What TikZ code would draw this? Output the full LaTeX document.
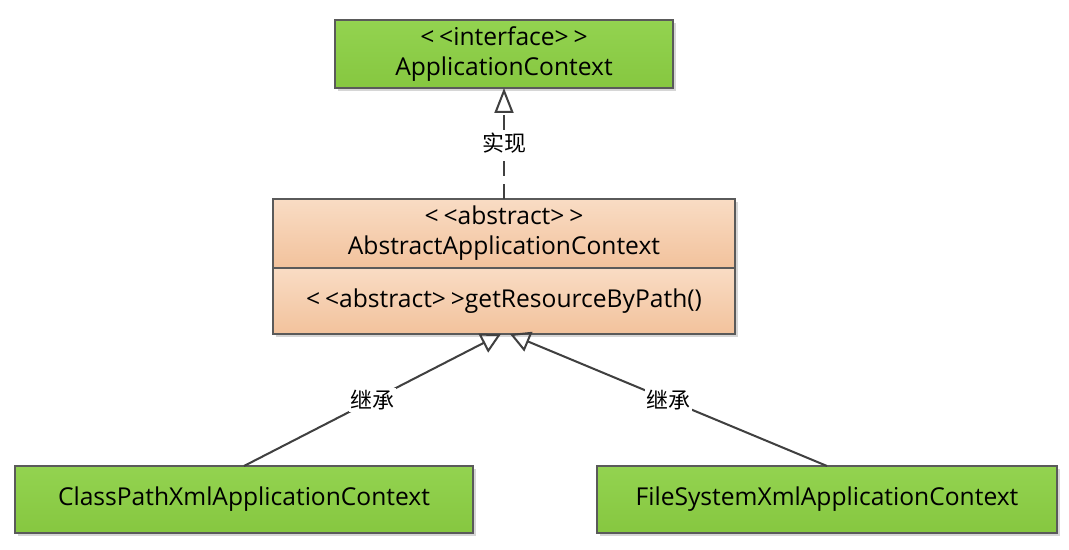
\documentclass[tikz,border=0pt]{standalone}
\usepackage{fontspec}
\setmainfont{Open Sans}
\newfontfamily\cjk{Noto Sans CJK SC}
\usepackage{xcolor}
\usetikzlibrary{arrows.meta}
\usetikzlibrary{positioning}
\usetikzlibrary{shadows}
\definecolor{verdeclaro}{HTML}{93D350}
\definecolor{verdeescuro}{HTML}{86C740}
\definecolor{laranjaclaro}{HTML}{F9DCC4}
\definecolor{laranjaescuro}{HTML}{F2C29C}
\definecolor{borda}{HTML}{5A5A5A}
\definecolor{linha}{HTML}{404040}
\newcommand{\estereotipo}[1]{\textless\kern0.2em\textless#1\textgreater\kern0.2em\textgreater}
\tikzset{
  classe/.style={draw=borda, line width=0.7pt, outer sep=0pt, minimum width=#1, minimum height=1.36cm, align=center, inner sep=2pt,
    font=\fontsize{14}{17}\selectfont, drop shadow={shadow xshift=0.06cm, shadow yshift=-0.06cm, fill=black!16, opacity=1}},
  classe/.default=6cm,
  verde/.style={classe=#1, top color=verdeclaro, bottom color=verdeescuro},
  laranja/.style={classe=#1, top color=laranjaclaro, bottom color=laranjaescuro},
  heranca/.style={-{Triangle[open, length=0.4cm, width=0.42cm]}, line width=1.15pt, draw=linha},
  realiza/.style={-{Triangle[open, length=0.5cm, width=0.38cm]}, line width=1.15pt, draw=linha, dash pattern=on 0.3cm off 0.16cm},
  rotulo/.style={fill=white, inner sep=1pt, font=\cjk\fontsize{12.5}{14}\selectfont},
}

\begin{document}
\begin{tikzpicture}
  \useasboundingbox (0,0) rectangle (21.38,-11);
  \node[verde=6.76cm] (ifc) at (10.08,-1.08) {\estereotipo{interface}\\ApplicationContext};
  \node[laranja=9.24cm, minimum height=1.38cm] (abs) at (10.08,-4.67) {\estereotipo{abstract}\\AbstractApplicationContext};
  \node[laranja=9.24cm, minimum height=1.32cm, below=0pt of abs] (abm) {\estereotipo{abstract}getResourceByPath()};
  \node[verde=9.16cm, minimum height=1.34cm] (cpx) at (4.88,-9.99) {ClassPathXmlApplicationContext};
  \node[verde=9.2cm, minimum height=1.34cm] (fsx) at (16.54,-9.99) {FileSystemXmlApplicationContext};
  \draw[realiza] (abs.north) -- node[rotulo] (real) {实现} (ifc.south);
  \draw[heranca] (cpx.north) -- node[rotulo] (her1) {继承} ([xshift=-0.06cm]abm.south);
  \draw[heranca] (fsx.north) -- node[rotulo] (her2) {继承} ([xshift=0.12cm]abm.south);
\end{tikzpicture}
\end{document}
